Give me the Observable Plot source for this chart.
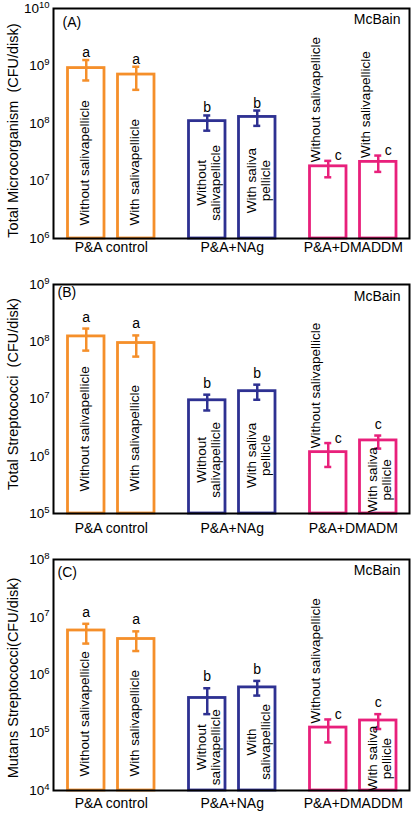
<!DOCTYPE html>
<html><head><meta charset="utf-8">
<script src="https://cdn.jsdelivr.net/npm/d3@7"></script>
<script src="https://cdn.jsdelivr.net/npm/@observablehq/plot@0.6"></script>
<style>
body{margin:0;background:#fff;width:415px;font-family:"Liberation Sans",Arial,sans-serif;}
svg{display:block;overflow:visible;}
</style></head><body><div id="chart"></div>
<script>
// ---- data ----
const groupsAC = ["P&A control", "P&A+NAg", "P&A+DMADDM"];
const groupsB = ["P&A control", "P&A+NAg", "P&A+DMADM"];
const letters = ["a", "a", "b", "b", "c", "c"];

const yLabelA = "Total Microcorganism  (CFU/disk)";
const yLabelB = "Total Streptococci  (CFU/disk)";
const yLabelC = "Mutans Streptococci(CFU/disk)";

const valuesA = [9.2e8, 7.1e8, 1.1e8, 1.3e8, 1.8e7, 2.15e7];
const lowA = [5.6e8, 3.85e8, 7.5e7, 9.1e7, 1.16e7, 1.44e7];
const highA = [1.27e9, 9.7e8, 1.38e8, 1.68e8, 2.24e7, 2.77e7];

const valuesB = [1.24e8, 9.5e7, 9.5e6, 1.37e7, 1.18e6, 1.89e6];
const lowB = [7.0e7, 5.5e7, 6.3e6, 9.7e6, 6.5e5, 1.36e6];
const highB = [1.7e8, 1.29e8, 1.19e7, 1.78e7, 1.7e6, 2.3e6];

const valuesC = [5.9e6, 4.2e6, 4.0e5, 6.1e5, 1.23e5, 1.63e5];
const lowC = [3.5e6, 2.6e6, 2.1e5, 4.4e5, 6.8e4, 1.16e5];
const highC = [7.7e6, 5.7e6, 5.9e5, 7.9e5, 1.7e5, 2.1e5];

const barLabelsA = ["Without salivapellicle", "With salivapellicle", "Without\nsalivapellicle", "With saliva\npellicle", "Without salivapellicle", "With salivapellicle"];
const barLabelsB = ["Without salivapellicle", "With salivapellicle", "Without\nsalivapellicle", "With saliva\npellicle", "Without salivapellicle", "With saliva\npellicle"];
const barLabelsC = ["Without salivapellicle", "With salivapellicle", "Without\nsalivapellicle", "With\nsalivapellicle", "Without salivapellicle", "With saliva\npellicle"];

const ticksA = [1e6, 1e7, 1e8, 1e9, 1e10];
const ticksB = [1e5, 1e6, 1e7, 1e8, 1e9];
const ticksC = [1e4, 1e5, 1e6, 1e7, 1e8];

// ---- layout / style ----
const colors = ["#f58f2a", "#2e3192", "#e8207b"];
const modesA = ["bottom", "bottom", "center", "center", "above", "above"];
const modesBC = ["bottom", "bottom", "center", "center", "above", "center"];
const font = "'Liberation Sans', Arial, Helvetica, sans-serif";

const panels = [
  {tag: "(A)", yLabel: yLabelA, groups: groupsAC, values: valuesA, low: lowA, high: highA, labels: barLabelsA, modes: modesA, ticks: ticksA,
   height: 270, mt: 8, mb: 32, xPad: 4, bottomOff: 13, letterGap: 3, yLabelDy: 7, tagDx: 9, tagDy: 9, mcDy: 6},
  {tag: "(B)", yLabel: yLabelB, groups: groupsB, values: valuesB, low: lowB, high: highB, labels: barLabelsB, modes: modesBC, ticks: ticksB,
   height: 270, mt: 14, mb: 27, xPad: 10, bottomOff: 22, letterGap: 7, yLabelDy: -5, tagDx: 4, tagDy: 3, mcDy: 7},
  {tag: "(C)", yLabel: yLabelC, groups: groupsAC, values: valuesC, low: lowC, high: highC, labels: barLabelsC, modes: modesBC, ticks: ticksC,
   height: 275, mt: 19, mb: 25, xPad: 8, bottomOff: 14, letterGap: 7, yLabelDy: 3, tagDx: 4, tagDy: 8, mcDy: 6}
];

const xDomain = [0, 7.12];
const firstCenter = 1.155, groupStep = 2.42, hw = 0.365, cap = 0.07;
const groupCenter = g => firstCenter + g * groupStep;

const root = document.getElementById("chart");

for (const p of panels) {
  const ymin = p.ticks[0], ymax = p.ticks[p.ticks.length - 1];
  const rows = p.values.map((v, i) => {
    const g = Math.floor(i / 2), s = i % 2;
    return {v, lo: p.low[i], hi: p.high[i], letter: letters[i], label: p.labels[i], mode: p.modes[i],
            g, col: colors[g], c: groupCenter(g) + (s - 0.5)};
  });
  const plot = Plot.plot({
    width: 415, height: p.height,
    marginLeft: 53, marginRight: 6, marginTop: p.mt, marginBottom: p.mb,
    style: {fontFamily: font, color: "#000", background: "#fff", overflow: "visible"},
    x: {domain: xDomain, axis: null},
    y: {type: "log", domain: [ymin, ymax], axis: null},
    color: {type: "identity"},
    marks: [
      Plot.rectY(rows, {x1: d => d.c - hw, x2: d => d.c + hw, y1: () => ymin, y2: "v", fill: "white", stroke: "col", strokeWidth: 2.8}),
      Plot.frame({stroke: "#000", strokeWidth: 2}),
      Plot.axisY({ticks: p.ticks, tickSize: 0, tickPadding: 4, fontSize: 13.5,
        tickFormat: d => "10^" + Math.round(Math.log10(d)), label: null}),
      Plot.axisX({ticks: p.groups.map((_, g) => groupCenter(g)), tickSize: 0, tickPadding: p.xPad, fontSize: 14,
        tickFormat: d => p.groups[Math.round((d - firstCenter) / groupStep)], label: null}),
      Plot.ruleX(rows, {x: "c", y1: "lo", y2: "hi", stroke: "col", strokeWidth: 2.5}),
      Plot.ruleY(rows, {y: "hi", x1: d => d.c - cap, x2: d => d.c + cap, stroke: "col", strokeWidth: 2.5}),
      Plot.ruleY(rows, {y: "lo", x1: d => d.c - cap, x2: d => d.c + cap, stroke: "col", strokeWidth: 2.5}),
      // bar labels
      Plot.text(rows.filter(d => d.mode === "bottom"), {x: "c", y: () => ymin, text: "label", rotate: -90,
        textAnchor: "start", lineAnchor: "middle", dy: -p.bottomOff, dx: -2, fontSize: 13.5, fill: "#000"}),
      Plot.text(rows.filter(d => d.mode === "center"), {x: "c", y: d => Math.sqrt(d.v * ymin), text: "label", rotate: -90,
        textAnchor: "middle", lineAnchor: "middle", lineHeight: 1.1, dy: 3, dx: 1, fontSize: 13.5, fill: "#000"}),
      Plot.text(rows.filter(d => d.mode === "above"), {x: "c", y: "v", text: "label", rotate: -90,
        textAnchor: "start", lineAnchor: "middle", dy: -4, dx: -13, fontSize: 13.5, fill: "#000"}),
      // significance letters
      Plot.text(rows.filter(d => d.mode !== "above"), {x: "c", y: "hi", text: "letter", lineAnchor: "bottom",
        dy: -p.letterGap, fontSize: 14, fill: "#000"}),
      Plot.text(rows.filter(d => d.mode === "above"), {x: "c", y: "hi", text: "letter", lineAnchor: "middle",
        dx: 10, dy: -5, fontSize: 14, fill: "#000"}),
      // panel annotations
      Plot.text([p.tag], {frameAnchor: "top-left", dx: p.tagDx, dy: p.tagDy, lineAnchor: "top", fontSize: 14, fill: "#000"}),
      Plot.text(["McBain"], {frameAnchor: "top-right", dx: -9, dy: p.mcDy, lineAnchor: "top", fontSize: 14, fill: "#000"}),
      Plot.text([p.yLabel], {frameAnchor: "left", rotate: -90, dx: -40.5, dy: p.yLabelDy, lineAnchor: "middle",
        textAnchor: "middle", fontSize: 14.5, fill: "#000"})
    ]
  });
  // superscript exponents in y tick labels
  const ns = "http://www.w3.org/2000/svg";
  plot.querySelectorAll('g[aria-label="y-axis tick label"] text').forEach(t => {
    const parts = t.textContent.split("^");
    if (parts.length !== 2) return;
    t.textContent = parts[0];
    const ts = document.createElementNS(ns, "tspan");
    ts.setAttribute("dy", "-0.55em");
    ts.setAttribute("font-size", "9.5");
    ts.textContent = parts[1];
    t.appendChild(ts);
  });
  root.appendChild(plot);
}
</script></body></html>
